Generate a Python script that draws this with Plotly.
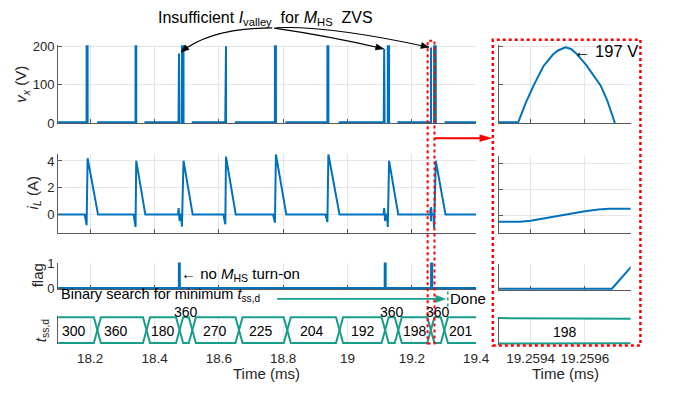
import plotly.graph_objects as go

# ---------------- waveform data (time in ms) ----------------
# switching-node voltage v_x (V)
vx_t = [18.1000,
        18.1885, 18.1887, 18.1918, 18.1920, 18.2243, 18.2245,
        18.3407, 18.3409, 18.3430, 18.3432, 18.3713, 18.3715,
        18.4745, 18.4760, 18.4775, 18.4776, 18.4851, 18.4852, 18.4900, 18.4902, 18.5186, 18.5188,
        18.6198, 18.6200, 18.6221, 18.6223, 18.6525, 18.6527,
        18.7741, 18.7743, 18.7773, 18.7775, 18.8096, 18.8098,
        18.9372, 18.9374, 18.9404, 18.9406, 18.9751, 18.9753,
        19.1125, 19.1139, 19.1153, 19.1154, 19.1251, 19.1252, 19.1291, 19.1293, 19.1577, 19.1579,
        19.259354, 19.259381, 19.259411, 19.259447, 19.259483, 19.259501, 19.259528,
        19.259549, 19.259567, 19.259604, 19.259658, 19.259682, 19.259710, 19.259712,
        19.2691, 19.2692, 19.2743, 19.2745, 19.3047, 19.3049, 19.4000]
vx_v = [2,
        2, 200, 200, -10, -10, 2,
        2, 200, 200, -10, -10, 2,
        2, 181, 2, -10, -10, 200, 200, -10, -10, 2,
        2, 200, 200, -10, -10, 2,
        2, 200, 200, -10, -10, 2,
        2, 200, 200, -10, -10, 2,
        2, 193, 2, -10, -10, 200, 200, -10, -10, 2,
        2, 51, 98, 148, 179, 189, 197,
        193, 182, 152, 98, 60, 2, -10,
        -10, 200, 200, -10, -10, 2, 2]

# inductor current i_L (A)
iL_t = [18.1000,
        18.1827, 18.1887, 18.1918, 18.2243,
        18.3349, 18.3409, 18.3430, 18.3713,
        18.4730, 18.4748, 18.4779, 18.4809, 18.4830, 18.4851, 18.4900, 18.5186,
        18.6140, 18.6200, 18.6221, 18.6525,
        18.7683, 18.7743, 18.7773, 18.8096,
        18.9314, 18.9374, 18.9404, 18.9751,
        19.1121, 19.1139, 19.1169, 19.1200, 19.1230, 19.1251, 19.1291, 19.1577,
        19.2569, 19.2578, 19.2588, 19.25936, 19.25940, 19.25945, 19.25950, 19.25955,
        19.25960, 19.25965, 19.25969, 19.2600, 19.2620, 19.2670, 19.2691, 19.2743, 19.3047,
        19.4000]
iL_v = [0,
        0, -0.79, 4.21, 0,
        0, -0.92, 4.02, 0,
        0, 0.48, -0.48, 0, 0, -0.90, 4.02, 0,
        0, -0.72, 4.33, 0,
        0, -0.60, 4.50, 0,
        0, -0.55, 4.50, 0,
        0, 0.48, -0.48, 0, 0, -0.92, 4.02, 0,
        0, 0.45, -0.50, -0.50, -0.43, -0.25, -0.05, 0.15,
        0.32, 0.45, 0.50, 0.50, 0, 0, -1.00, 4.02, 0,
        0]

# missing high-side turn-on flag
flag_t = [18.1000, 18.4755, 18.4756, 18.4785, 18.4786,
          19.1155, 19.1156, 19.1185, 19.1186,
          19.25970, 19.25978, 19.2630, 19.2632, 19.4000]
flag_v = [0, 0, 1, 1, 0,
          0, 1, 1, 0,
          0, 1, 1, 0, 0]

# dead-time register t_ss,d: value per interval and switching instants
bus_vals = [300, 360, 180, 360, 270, 225, 204, 192, 360, 198, 360, 201]
bus_switch_t = [18.2222, 18.3750, 18.4778, 18.5174, 18.6626, 18.8126,
                18.9751, 19.1169, 19.1577, 19.2590, 19.3010]
bus_label_t = [18.1483, 18.2800, 18.4252, 18.4976, 18.5865, 18.7317,
               18.8908, 19.0485, 19.1373, 19.2097, 19.2800, 19.3528]
# zoomed view of the register around the resonant transition
zoom_bus_t = [19.25928, 19.25977]
zoom_bus_hi = [1.0, 0.98]
zoom_bus_lo = [0.0, 0.015]
zoom_bus_val = 198
zoom_bus_label_t = 19.259528

# axis ticks
left_ticks = [18.2, 18.4, 18.6, 18.8, 19.0, 19.2, 19.4]
left_tick_text = ["18.2", "18.4", "18.6", "18.8", "19", "19.2", "19.4"]
right_ticks = [19.2594, 19.2596]
right_tick_text = ["19.2594", "19.2596"]
peak_label = "197 V"

# ---------------- styling ----------------
W, H = 674, 394
FONT = "Liberation Sans, Arial, Helvetica, sans-serif"
BLUE = "#0072BD"
TEAL = "#179e8a"
RED = "#ff0000"
AX = "#5a5a5a"
GRID = "#e6e6e6"
TXT = "#262626"


def px(x):
    return x / W


def py(y):
    return 1 - y / H


LEFT_X = [px(59.3), px(486.3)]
RIGHT_X = [px(509.3), px(644.0)]
ROWS_L = [(39.5, 120.7), (152.7, 234.0), (265.0, 292.7), (320.1, 349.9)]
ROWS_R = [(39.5, 120.7), (155.0, 234.3), (266.0, 293.3), (321.0, 350.6)]
XR_L = [18.1, 19.4]
XR_R = [19.259282, 19.259769]
YR = [[-1, 203], [-1.35, 4.5], [-0.05, 1.02], [-0.06, 1.06]]
YR_R = [[-1, 203], [-1.37, 4.55], [-0.05, 1.02], [-0.06, 1.06]]
YT = [[0, 100, 200], [0, 2, 4], [0, 1], []]

fig = go.Figure()


def line(x, y, xa, ya, color=BLUE, width=2):
    fig.add_trace(go.Scatter(x=x, y=y, mode="lines", xaxis=xa, yaxis=ya,
                             line=dict(color=color, width=width),
                             hoverinfo="skip", showlegend=False))


for xa, ya in (("x", "y"), ("x5", "y5")):
    line(vx_t, vx_v, xa, ya)
for xa, ya in (("x2", "y2"), ("x6", "y6")):
    line(iL_t, iL_v, xa, ya)
for xa, ya in (("x3", "y3"), ("x7", "y7")):
    line(flag_t, flag_v, xa, ya)

# bus-style drawing of t_ss,d: two crossing rails
hw = 0.011
for start in (1, 0):
    bx, by = [XR_L[0]], [start]
    lvl = start
    for T in bus_switch_t:
        bx += [T - hw, T + hw]
        by += [lvl, 1 - lvl]
        lvl = 1 - lvl
    bx.append(XR_L[1])
    by.append(lvl)
    line(bx, by, "x4", "y4", TEAL, 2)
line(zoom_bus_t, zoom_bus_hi, "x8", "y8", TEAL, 2)
line(zoom_bus_t, zoom_bus_lo, "x8", "y8", TEAL, 2)

layout = dict(width=W, height=H, margin=dict(l=0, r=0, t=0, b=0),
              paper_bgcolor="white", plot_bgcolor="white",
              font=dict(family=FONT, size=13, color=TXT))


def axis_common():
    return dict(showline=True, linecolor=AX, linewidth=1, ticks="inside",
                ticklen=4, tickcolor=AX, tickwidth=1, zeroline=False,
                gridcolor=GRID, gridwidth=1, mirror=False,
                tickfont=dict(family=FONT, size=13, color=TXT))


for i in range(4):
    n = i + 1
    m = i + 5
    # left column
    xa = axis_common()
    xa.update(domain=LEFT_X, range=XR_L, anchor="y" if n == 1 else f"y{n}",
              tickvals=left_ticks, ticktext=left_tick_text, showgrid=True,
              showticklabels=(i == 3), tickfont=dict(family=FONT, size=13.5, color=TXT))
    ya = axis_common()
    ya.update(domain=[py(ROWS_L[i][1]), py(ROWS_L[i][0])], range=YR[i],
              anchor="x" if n == 1 else f"x{n}", tickvals=YT[i],
              showgrid=(i < 2), showticklabels=(i < 3))
    if i == 3:
        xa.update(showline=False, ticks="", ticklabelstandoff=4)
        ya.update(ticks="")
    # right column
    xb = axis_common()
    xb.update(domain=RIGHT_X, range=XR_R, anchor=f"y{m}", tickvals=right_ticks,
              ticktext=right_tick_text, showgrid=True, showticklabels=(i == 3),
              tickfont=dict(family=FONT, size=13.5, color=TXT))
    yb = axis_common()
    yb.update(domain=[py(ROWS_R[i][1]), py(ROWS_R[i][0])], range=YR_R[i],
              anchor=f"x{m}", tickvals=YT[i], showgrid=(i < 2),
              showticklabels=False)
    if i == 3:
        xb.update(showline=False, ticks="", ticklabelstandoff=3)
        yb.update(ticks="")
    layout["xaxis" if n == 1 else f"xaxis{n}"] = xa
    layout["yaxis" if n == 1 else f"yaxis{n}"] = ya
    layout[f"xaxis{m}"] = xb
    layout[f"yaxis{m}"] = yb

ann = []


def text(x, y, s, size=15, xanchor="center", yanchor="middle", angle=0, color="black"):
    ann.append(dict(x=px(x), y=py(y), xref="paper", yref="paper", text=s,
                    showarrow=False, xanchor=xanchor, yanchor=yanchor,
                    textangle=angle, font=dict(family=FONT, size=size, color=color)))


# axis titles
text(22, 80, "<i>v</i><sub><i>x</i></sub> (V)", 15, angle=-90, color=TXT)
text(34, 193, "<i>i</i><sub><i>L</i></sub> (A)", 15, angle=-90, color=TXT)
text(38, 278, "flag", 15, angle=-90, color=TXT)
text(42, 335, "<i>t</i><sub>ss,d</sub>", 15, angle=-90, color=TXT)
text(272, 380, "Time (ms)", 15, color=TXT)
text(577, 380, "Time (ms)", 15, color=TXT)

# callouts
text(271.5, 12, "Insufficient <i>I</i><sub>valley</sub>  for <i>M</i><sub>HS</sub>  ZVS", 16)
text(183, 277, "← no <i>M</i><sub>HS</sub> turn-on", 15, xanchor="left")
text(60, 299, "Binary search for minimum <i>t</i><sub>ss,d</sub>", 14.5, xanchor="left")
text(458, 302, "Done", 15, xanchor="left")
text(584, 46, "← " + peak_label, 16.5, xanchor="left")

# register values (narrow intervals get their value above the bus)
for k, (v, t) in enumerate(zip(bus_vals, bus_label_t)):
    lo = XR_L[0] if k == 0 else bus_switch_t[k - 1]
    hi = XR_L[1] if k == len(bus_vals) - 1 else bus_switch_t[k]
    if (hi - lo) < 0.06:
        ann.append(dict(x=t, y=py(316), xref="x4", yref="paper",
                        text=str(v), showarrow=False, xanchor="center", yanchor="middle",
                        font=dict(family=FONT, size=14, color="black")))
    else:
        ann.append(dict(x=t, y=0.47, xref="x4", yref="y4",
                        text=str(v), showarrow=False, xanchor="center", yanchor="middle",
                        font=dict(family=FONT, size=14, color="black")))
ann.append(dict(x=zoom_bus_label_t, y=0.47, xref="x8", yref="y8", text=str(zoom_bus_val),
                showarrow=False, font=dict(family=FONT, size=14, color="black")))

shapes = []


def arrow_head(tip, back, color, length=8.0, half=3.2):
    """Filled triangular head at `tip`, oriented along back->tip (pixel coords)."""
    dx, dy = tip[0] - back[0], tip[1] - back[1]
    d = (dx * dx + dy * dy) ** 0.5
    ux, uy = dx / d, dy / d
    bx, by = tip[0] - length * ux, tip[1] - length * uy
    l = (bx - half * uy, by + half * ux)
    r = (bx + half * uy, by - half * ux)
    shapes.append(dict(type="path", xref="paper", yref="paper",
                       path=(f"M {px(tip[0])},{py(tip[1])} L {px(l[0])},{py(l[1])} "
                             f"L {px(r[0])},{py(r[1])} Z"),
                       fillcolor=color, line=dict(color=color, width=0.5)))


# curved pointers from the ZVS callout
curves = [((278, 21.7), (215, 22), (185, 46.7)),
          ((280, 22), (335, 30), (391.7, 43.3)),
          ((282, 21.5), (335, 19), (438, 41.7))]
for p0, p1, p2 in curves:
    shapes.append(dict(type="path", xref="paper", yref="paper",
                       path=f"M {px(p0[0])},{py(p0[1])} Q {px(p1[0])},{py(p1[1])} {px(p2[0])},{py(p2[1])}",
                       line=dict(color="black", width=1.2)))
    arrow_head(p2, p1, "black", 8, 3.2)

# binary-search progress arrow and end marker
shapes.append(dict(type="line", xref="paper", yref="paper", x0=px(283), x1=px(447),
                   y0=py(302.7), y1=py(302.7), line=dict(color=TEAL, width=1.8)))
arrow_head((455, 302.7), (283, 302.7), TEAL, 10, 3.8)
shapes.append(dict(type="line", xref="paper", yref="paper", x0=px(457.3), x1=px(457.3),
                   y0=py(295), y1=py(312), line=dict(color=TEAL, width=1.5, dash="dot")))

# zoom window markers
shapes.append(dict(type="rect", xref="paper", yref="paper", x0=px(436.7), x1=px(443.7),
                   y0=py(349), y1=py(35), line=dict(color=RED, width=2, dash="dot")))
shapes.append(dict(type="rect", xref="paper", yref="paper", x0=px(503.3), x1=px(654),
                   y0=py(351), y1=py(34), line=dict(color=RED, width=2.5, dash="dot")))
shapes.append(dict(type="line", xref="paper", yref="paper", x0=px(444), x1=px(491),
                   y0=py(136), y1=py(136), line=dict(color=RED, width=2)))
arrow_head((502, 136), (444, 136), RED, 12, 3.5)

layout["annotations"] = ann
layout["shapes"] = shapes
fig.update_layout(**layout)
fig.write_html("out.html")
